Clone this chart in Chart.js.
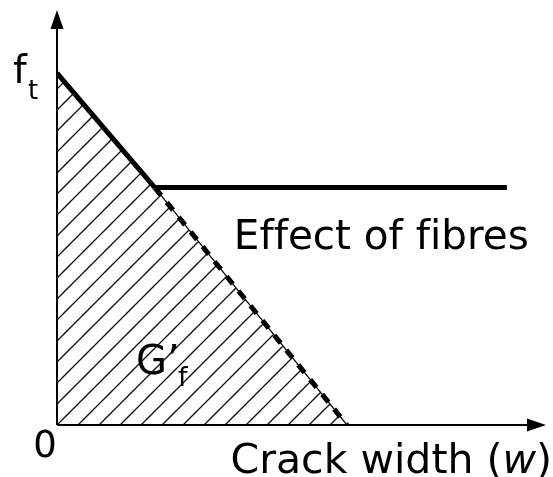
<!DOCTYPE html>
<html>
<head>
<meta charset="utf-8">
<script src="https://cdn.jsdelivr.net/npm/chart.js@4"></script>
<style>
  html, body { margin: 0; padding: 0; background: #fff; }
  #wrap { width: 553px; height: 477px; }
</style>
</head>
<body>
<div id="wrap"><canvas id="myChart"></canvas></div>
<script>
// softening curve of plain concrete: from ft down to zero stress
const softeningW = [0, 2.0, 5.93]
const softeningS = [8.48, 5.72, 0]
// residual stress carried by the fibres
const fibreW = [2.0, 9.2]
const fibreS = [5.72, 5.72]
// axes run from 0 to this value (arrow tips)
const axisMax = 10

const FONT = '"DejaVu Sans", Verdana, sans-serif'
const ctx = document.querySelector('#myChart')

// diagonal hatching, one line per 21px tile
function hatch(c2d) {
    const c = document.createElement('canvas')
    c.width = 21
    c.height = 21
    const g = c.getContext('2d')
    g.strokeStyle = '#111'
    g.lineWidth = 1.3
    for (const k of [-1, 20, 41]) {
        g.beginPath()
        g.moveTo(k + 5, -5)
        g.lineTo(k - 26, 26)
        g.stroke()
    }
    return c2d.createPattern(c, 'repeat')
}

const pts = (xs, ys) => xs.map((x, i) => ({ x: x, y: ys[i] }))

// hatch the area under the softening curve (G'f)
const energyArea = {
    id: 'energyArea',
    beforeDatasetsDraw(chart) {
        const c = chart.ctx
        const p = chart.getDatasetMeta(0).data
        const y0 = chart.scales.y.getPixelForValue(0)
        const a = chart.chartArea
        c.save()
        c.beginPath()
        c.moveTo(p[0].x, y0)
        p.forEach(pt => c.lineTo(pt.x, pt.y))
        c.lineTo(p[p.length - 1].x, y0)
        c.closePath()
        c.clip()
        c.fillStyle = hatch(c)
        c.fillRect(a.left, a.top, a.right - a.left, a.bottom - a.top)
        c.restore()
    }
}

// arrow heads and the text labels, placed from the scales
const annotate = {
    id: 'annotate',
    afterDatasetsDraw(chart) {
        const c = chart.ctx
        const sx = chart.scales.x
        const sy = chart.scales.y
        const x0 = sx.getPixelForValue(0)
        const y0 = sy.getPixelForValue(0)
        const xEnd = sx.getPixelForValue(axisMax)
        const yEnd = sy.getPixelForValue(axisMax)
        c.save()
        c.fillStyle = '#000'
        // x arrow
        c.beginPath()
        c.moveTo(xEnd, y0)
        c.lineTo(xEnd - 19, y0 - 6.5)
        c.lineTo(xEnd - 19, y0 + 6.5)
        c.closePath()
        c.fill()
        // y arrow
        c.beginPath()
        c.moveTo(x0, yEnd)
        c.lineTo(x0 - 6.5, yEnd + 19)
        c.lineTo(x0 + 6.5, yEnd + 19)
        c.closePath()
        c.fill()

        c.textBaseline = 'alphabetic'
        // f_t
        const yft = sy.getPixelForValue(softeningS[0])
        c.font = '39px ' + FONT
        c.textAlign = 'left'
        c.fillText('f', 13, yft + 10)
        c.font = '26px ' + FONT
        c.fillText('t', 28, yft + 26)
        // origin
        c.font = '37px ' + FONT
        c.textAlign = 'center'
        c.fillText('0', x0 - 12, y0 + 32)
        // x title with italic w
        c.textAlign = 'left'
        c.font = '41px ' + FONT
        const right = chart.width - 1
        const close = c.measureText(')').width
        c.font = 'italic 41px ' + FONT
        const wWidth = c.measureText('w').width
        c.font = '41px ' + FONT
        const head = 'Crack width ('
        const headWidth = c.measureText(head).width
        let tx = right - close - wWidth - headWidth
        const ty = y0 + 48
        c.fillText(head, tx, ty)
        tx += headWidth
        c.font = 'italic 41px ' + FONT
        c.fillText('w', tx, ty)
        tx += wWidth
        c.font = '41px ' + FONT
        c.fillText(')', tx, ty)
        // fibres label under the plateau (ZWNJ keeps ff / fi apart)
        c.font = '40.5px ' + FONT
        c.fillText('Ef\u200Cfect of f\u200Cibres', sx.getPixelForValue(fibreW[0]) + 79, sy.getPixelForValue(fibreS[0]) + 61)
        // fracture energy G'f
        c.font = '40px ' + FONT
        c.fillText('G\u2019', x0 + 79, y0 - 51)
        c.font = '27px ' + FONT
        c.fillText('f', x0 + 121, y0 - 39)
        c.restore()
    }
}

new Chart(ctx, {
    type: 'scatter',
    data: {
        datasets: [
            {
                label: 'Gf edge',
                data: pts(softeningW, softeningS),
                showLine: true,
                fill: false,
                borderColor: '#000',
                borderWidth: 1.2,
                pointRadius: 0,
                order: 3
            },
            {
                label: 'Softening',
                data: pts(softeningW, softeningS),
                showLine: true,
                fill: false,
                borderColor: '#000',
                borderWidth: 5,
                borderCapStyle: 'butt',
                pointRadius: 0,
                segment: {
                    borderDash: s => s.p0DataIndex === 1 ? [10, 9] : undefined
                },
                order: 1
            },
            {
                label: 'Fibres',
                data: pts(fibreW, fibreS),
                showLine: true,
                fill: false,
                borderColor: '#000',
                borderWidth: 5,
                pointRadius: 0,
                order: 1
            },
            {
                label: 'x axis',
                data: pts([0, axisMax - 0.3], [0, 0]),
                showLine: true,
                borderColor: '#000',
                borderWidth: 2,
                pointRadius: 0,
                clip: false,
                order: 2
            },
            {
                label: 'y axis',
                data: pts([0, 0], [0, axisMax - 0.3]),
                showLine: true,
                borderColor: '#000',
                borderWidth: 2,
                pointRadius: 0,
                clip: false,
                order: 2
            }
        ]
    },
    options: {
        responsive: true,
        maintainAspectRatio: false,
        animation: false,
        layout: { padding: { left: 57, right: 7, top: 10, bottom: 52 } },
        scales: {
            x: { type: 'linear', min: 0, max: axisMax, display: false },
            y: { type: 'linear', min: 0, max: axisMax, display: false }
        },
        plugins: {
            legend: { display: false },
            tooltip: { enabled: false }
        }
    },
    plugins: [energyArea, annotate]
})
</script>
</body>
</html>
